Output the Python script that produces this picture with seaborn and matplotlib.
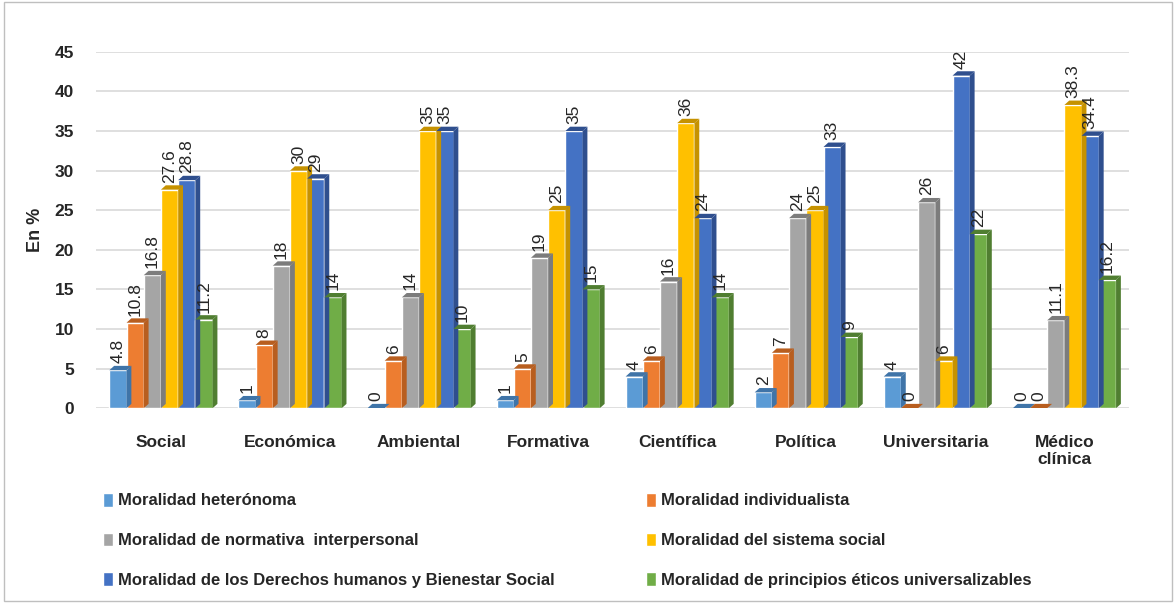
import seaborn as sns
import matplotlib.pyplot as plt
import pandas as pd
from matplotlib.patches import Polygon, Rectangle

categories = ["Social", "Económica", "Ambiental", "Formativa", "Científica",
              "Política", "Universitaria", "Médico\nclínica"]
series = [
    "Moralidad heterónoma",
    "Moralidad individualista",
    "Moralidad de normativa  interpersonal",
    "Moralidad del sistema social",
    "Moralidad de los Derechos humanos y Bienestar Social",
    "Moralidad de principios éticos universalizables",
]
heteronoma = [4.8, 1, 0, 1, 4, 2, 4, 0]
individualista = [10.8, 8, 6, 5, 6, 7, 0, 0]
interpersonal = [16.8, 18, 14, 19, 16, 24, 26, 11.1]
sistema_social = [27.6, 30, 35, 25, 36, 25, 6, 38.3]
derechos = [28.8, 29, 35, 35, 24, 33, 42, 34.4]
principios = [11.2, 14, 10, 15, 14, 9, 22, 16.2]
values = [heteronoma, individualista, interpersonal, sistema_social, derechos, principios]

colors = ["#5B9BD5", "#ED7D31", "#A5A5A5", "#FFC000", "#4472C4", "#70AD47"]
dark = ["#3F74A8", "#B85E1F", "#7C7C7C", "#C69200", "#2F4F8E", "#507E31"]

rows = []
for s, vals in zip(series, values):
    for c, v in zip(categories, vals):
        rows.append({"cat": c, "serie": s, "val": v})
df = pd.DataFrame(rows)

sns.set_style("white")
plt.rcParams["font.family"] = ["Liberation Sans", "DejaVu Sans"]

fig = plt.figure(figsize=(11.76, 6.03), dpi=100)
ax = fig.add_axes([0.082, 0.323, 0.878, 0.591])

sns.barplot(data=df, x="cat", y="val", hue="serie", palette=colors,
            width=0.8, saturation=1, ax=ax, legend=True, errorbar=None)

ax.set_ylim(0, 45)
ax.set_yticks(range(0, 46, 5))
ax.grid(axis="y", color="#D9D9D9", linewidth=1.2)
ax.set_axisbelow(True)
for sp in ax.spines.values():
    sp.set_visible(False)
ax.set_xlabel("")
ax.set_ylabel("En %", fontsize=13, fontweight="bold", labelpad=8)
ax.tick_params(axis="y", labelsize=12.5, length=0, pad=16)
ax.tick_params(axis="x", labelsize=12.5, length=0, pad=19)
for t in ax.get_xticklabels() + ax.get_yticklabels():
    t.set_fontweight("bold")

# pseudo 3D side/top faces derived from each bar
for i, cont in enumerate(ax.containers):
    for p in cont:
        x0, w, h = p.get_x(), p.get_width(), p.get_height()
        d = w * 0.28
        dy = 0.55
        side = Polygon([(x0 + w, 0), (x0 + w + d, dy), (x0 + w + d, h + dy), (x0 + w, h)],
                       closed=True, facecolor=dark[i], edgecolor="none", zorder=2)
        top = Polygon([(x0, h), (x0 + d, h + dy), (x0 + w + d, h + dy), (x0 + w, h)],
                      closed=True, facecolor=dark[i], edgecolor="none", zorder=2)
        ax.add_patch(side)
        ax.add_patch(top)
    ax.bar_label(cont, labels=[f"{v:g}" for v in cont.datavalues], rotation=90,
                 padding=5, fontsize=12.5)

ax.legend_.remove()
sq = [Rectangle((0, 0), 1, 1, facecolor=c) for c in colors]
order = [0, 2, 4, 1, 3, 5]
leg = fig.legend([sq[k] for k in order], [series[k] for k in order], ncol=2,
                 loc="lower left", bbox_to_anchor=(0.075, 0.0), frameon=False,
                 fontsize=12, handlelength=0.6, handleheight=0.9, handletextpad=0.3,
                 columnspacing=5.5, labelspacing=1.45)
for t in leg.get_texts():
    t.set_fontweight("bold")

fig.patches.append(Rectangle((0.003, 0.003), 0.994, 0.994, transform=fig.transFigure,
                             fill=False, edgecolor="#BFBFBF", linewidth=1))

plt.savefig("out.png", dpi=100)
